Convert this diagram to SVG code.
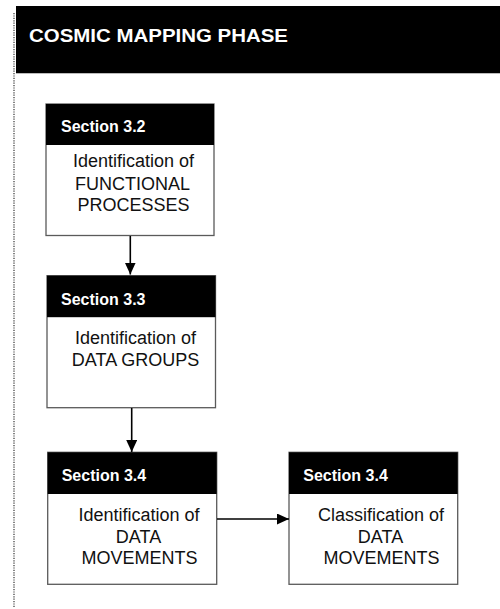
<svg xmlns="http://www.w3.org/2000/svg" width="500" height="609" viewBox="0 0 500 609">
<style>
.hdr{fill:#000}
.body{fill:#fff;stroke:#5a5a5a;stroke-width:1.3}
.sec{font-family:"Liberation Sans",Arial,sans-serif;font-weight:bold;font-size:16px;fill:#fff}
.txt{font-family:"Liberation Sans",Arial,sans-serif;font-size:18px;fill:#111;text-anchor:middle}
.title{font-family:"Liberation Sans",Arial,sans-serif;font-weight:bold;font-size:18.5px;fill:#fff}
.conn{stroke:#000;stroke-width:1.6;fill:none}
</style>
<defs>
<marker id="ah" markerWidth="12" markerHeight="11" refX="12" refY="5.5" orient="auto" markerUnits="userSpaceOnUse">
<path d="M0,0 L12,5.5 L0,11 Z" fill="#000"/>
</marker>
</defs>
<rect width="500" height="609" fill="#fff"/>
<g id="frame">
<line x1="14" y1="13" x2="14" y2="608" stroke="#333" stroke-width="1.2" stroke-dasharray="1.2,1.2"/>
<rect x="16" y="6" width="484" height="67.5" fill="#000"/>
<line x1="16" y1="73.5" x2="500" y2="73.5" stroke="#bbb" stroke-width="1"/>
<text class="title" x="29" y="41.5" textLength="259" lengthAdjust="spacingAndGlyphs">COSMIC MAPPING PHASE</text>
</g>
<g id="node1">
<rect class="body" x="46" y="104" width="168" height="131.5"/>
<rect class="hdr" x="46" y="104" width="168" height="41"/>
<text class="sec" x="61" y="131.5">Section 3.2</text>
<text class="txt" x="133.5" y="167.3">Identification of</text>
<text class="txt" x="132.5" y="190">FUNCTIONAL</text>
<text class="txt" x="133.5" y="210.7">PROCESSES</text>
</g>
<g id="node2">
<rect class="body" x="47" y="275.7" width="168.5" height="132"/>
<rect class="hdr" x="47" y="275.7" width="168.5" height="41.5"/>
<text class="sec" x="61" y="305">Section 3.3</text>
<text class="txt" x="135.5" y="344">Identification of</text>
<text class="txt" x="135.5" y="366">DATA GROUPS</text>
</g>
<g id="node3">
<rect class="body" x="47.7" y="452.3" width="169" height="132"/>
<rect class="hdr" x="47.7" y="452.3" width="169" height="41.7"/>
<text class="sec" x="61.7" y="480.7">Section 3.4</text>
<text class="txt" x="139" y="521">Identification of</text>
<text class="txt" x="138.5" y="542.7">DATA</text>
<text class="txt" x="139.5" y="564">MOVEMENTS</text>
</g>
<g id="node4">
<rect class="body" x="289" y="452.3" width="168.7" height="132"/>
<rect class="hdr" x="289" y="452.3" width="168.7" height="41.7"/>
<text class="sec" x="303.3" y="480.7">Section 3.4</text>
<text class="txt" x="381" y="521">Classification of</text>
<text class="txt" x="380.5" y="542.7">DATA</text>
<text class="txt" x="381.5" y="564">MOVEMENTS</text>
</g>
<g id="connectors">
<line class="conn" x1="130.3" y1="236" x2="130.3" y2="274.5" marker-end="url(#ah)"/>
<line class="conn" x1="131.7" y1="408" x2="131.7" y2="452" marker-end="url(#ah)"/>
<line class="conn" x1="217" y1="519" x2="289" y2="519" marker-end="url(#ah)"/>
</g>
</svg>
